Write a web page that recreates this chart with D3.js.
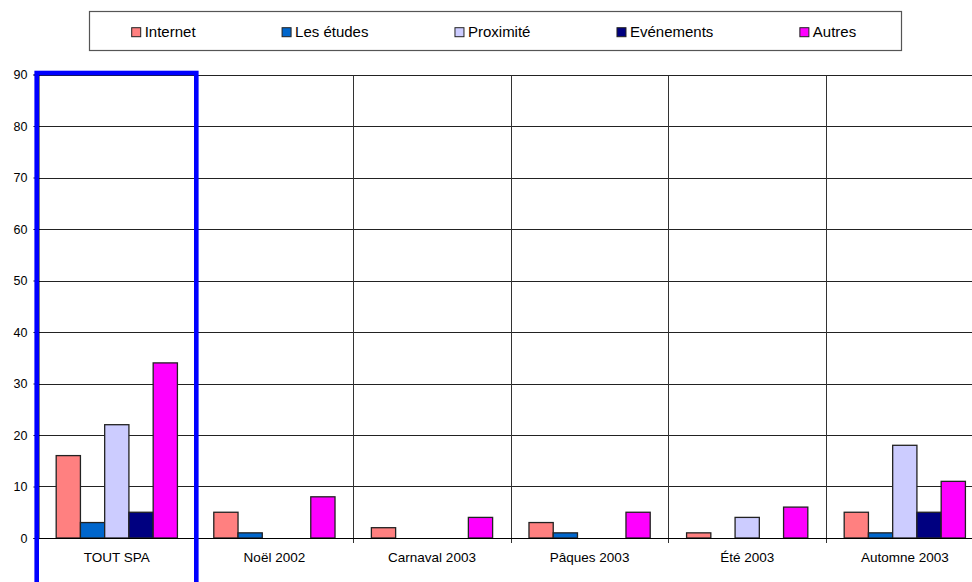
<!DOCTYPE html>
<html>
<head>
<meta charset="utf-8">
<script src="https://cdn.jsdelivr.net/npm/d3@7"></script>
<style>
  html, body { margin: 0; padding: 0; background: #fff; }
  svg { display: block; font-family: "Liberation Sans", Arial, sans-serif; }
</style>
</head>
<body>
<svg id="chart" width="972" height="582"></svg>
<script>
const categories = ["TOUT SPA", "Noël 2002", "Carnaval 2003", "Pâques 2003", "Été 2003", "Automne 2003"];
const seriesNames = ["Internet", "Les études", "Proximité", "Evénements", "Autres"];
const seriesColors = ["#FF8080", "#0066CC", "#CCCCFF", "#000080", "#FF00FF"];
const internet   = [16, 5, 2, 3, 1, 5];
const etudes     = [3, 1, 0, 1, 0, 1];
const proximite  = [22, 0, 0, 0, 4, 18];
const evenements = [5, 0, 0, 0, 0, 5];
const autres     = [34, 8, 4, 5, 6, 11];
const yTicks = [0, 10, 20, 30, 40, 50, 60, 70, 80, 90];

const seriesValues = [internet, etudes, proximite, evenements, autres];

const svg = d3.select("#chart");
const left = 38, catW = 157.6, y0 = 538, yTop = 74.5;

const x0 = d3.scaleBand().domain(categories)
  .range([left, left + catW * categories.length]).paddingInner(0).paddingOuter(0);
const x1 = d3.scaleBand().domain(seriesNames)
  .range([0, x0.bandwidth()]).paddingInner(0).paddingOuter(0.75);
const y = d3.scaleLinear().domain([0, 90]).range([y0, yTop]);

// horizontal gridlines
svg.append("g").selectAll("line").data(yTicks.filter(d => d > 0)).join("line")
  .attr("x1", left).attr("x2", 972)
  .attr("y1", d => Math.round(y(d)) + 0.5).attr("y2", d => Math.round(y(d)) + 0.5)
  .attr("stroke", "#222").attr("stroke-width", 1);

// vertical gridlines at category boundaries (extend below as ticks)
const bounds = categories.map(c => x0(c)).slice(1);
svg.append("g").selectAll("line").data(bounds).join("line")
  .attr("x1", d => Math.round(d) + 0.5).attr("x2", d => Math.round(d) + 0.5)
  .attr("y1", Math.round(yTop) + 0.5).attr("y2", y0 + 5)
  .attr("stroke", "#333").attr("stroke-width", 1);

// y axis
const yAxis = d3.axisLeft(y).tickValues(yTicks).tickSize(5).tickPadding(6);
const gy = svg.append("g").attr("transform", `translate(${left + 0.5},0)`).call(yAxis);
gy.selectAll("text").attr("font-size", "12.5px").attr("fill", "#000")
  .attr("font-family", "Liberation Sans, Arial, sans-serif");
gy.selectAll("line").attr("stroke", "#000");
gy.select(".domain").attr("stroke", "#000");

// bars
const groups = svg.append("g").selectAll("g").data(categories).join("g")
  .attr("transform", c => `translate(${x0(c)},0)`);
groups.selectAll("rect")
  .data((c, ci) => seriesNames.map((s, si) => ({ s, si, v: seriesValues[si][ci] })).filter(d => d.v > 0))
  .join("rect")
  .attr("x", d => x1(d.s))
  .attr("y", d => y(d.v))
  .attr("width", x1.bandwidth())
  .attr("height", d => y(0) - y(d.v))
  .attr("fill", d => seriesColors[d.si])
  .attr("stroke", "#222").attr("stroke-width", 1.3);

// x axis baseline
svg.append("line").attr("x1", left).attr("x2", 972)
  .attr("y1", y0 + 0.5).attr("y2", y0 + 0.5).attr("stroke", "#000");

// category labels
const xAxis = d3.axisBottom(x0).tickSize(0).tickPadding(14);
const gx = svg.append("g").attr("transform", `translate(0,${y0})`).call(xAxis);
gx.select(".domain").remove();
gx.selectAll("text").attr("font-size", "13.5px").attr("fill", "#000")
  .attr("font-family", "Liberation Sans, Arial, sans-serif");

// blue highlight box around first category
svg.append("rect")
  .attr("x", x0(categories[0]) - 1.3)
  .attr("y", yTop - 1.5)
  .attr("width", x0.bandwidth() + 2)
  .attr("height", 600)
  .attr("fill", "none").attr("stroke", "#0000FF").attr("stroke-width", 4.6);

// legend
const leg = svg.append("g");
leg.append("rect").attr("x", 89.5).attr("y", 11.5).attr("width", 812).attr("height", 39)
  .attr("fill", "#fff").attr("stroke", "#555").attr("stroke-width", 1.2);
let lx = 131.7;
seriesNames.forEach((s, i) => {
  leg.append("rect").attr("x", lx).attr("y", 27.7).attr("width", 9).attr("height", 9)
    .attr("fill", seriesColors[i]).attr("stroke", "#222").attr("stroke-width", 1);
  const t = leg.append("text").attr("x", lx + 13).attr("y", 37.3)
    .attr("font-size", "15px").attr("fill", "#000").text(s);
  lx += 13 + t.node().getComputedTextLength() + 86.5;
});
</script>
</body>
</html>
